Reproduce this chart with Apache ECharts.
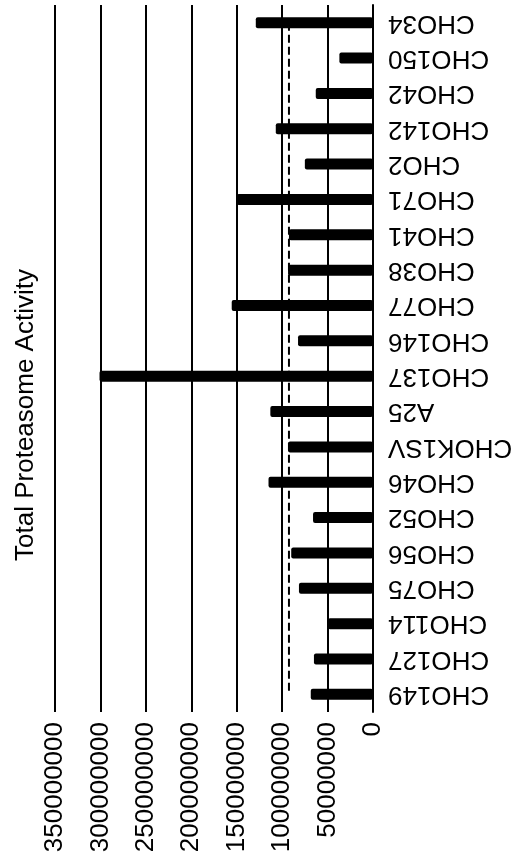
<!DOCTYPE html>
<html>
<head>
<meta charset="utf-8">
<script src="https://cdn.jsdelivr.net/npm/echarts@6/dist/echarts.min.js"></script>
<style>html,body{margin:0;padding:0;background:#fff}#c{width:513px;height:862px}</style>
</head>
<body>
<div id="c"></div>
<script>
const categories = ['CHO34','CHO150','CHO42','CHO142','CHO2','CHO71','CHO41','CHO38','CHO77','CHO146','CHO137','A25','CHOK1SV','CHO46','CHO52','CHO56','CHO75','CHO114','CHO127','CHO149'];
const activity = [129000000,37000000,63000000,107000000,75000000,150000000,92500000,93500000,155500000,82500000,301000000,113000000,93500000,115000000,66000000,90000000,81500000,49500000,65000000,68500000];
const referenceLine = [92500000,92500000,92500000,92500000,92500000,92500000,92500000,92500000,92500000,92500000,92500000,92500000,92500000,92500000,92500000,92500000,92500000,92500000,92500000,92500000];
const valueTicks = [0,50000000,100000000,150000000,200000000,250000000,300000000,350000000];
const titleText = 'Total Proteasome Activity';

const FONT = '"Liberation Sans", Arial, sans-serif';
const chart = echarts.init(document.getElementById('c'), null, {renderer: 'canvas'});
chart.setOption({
  animation: false,
  backgroundColor: '#fff',
  grid: {left: 55, right: 140, top: 5, bottom: 150, containLabel: false, outerBoundsMode: 'none'},
  xAxis: {
    type: 'value',
    inverse: true,
    min: valueTicks[0],
    max: valueTicks[valueTicks.length - 1],
    interval: valueTicks[1] - valueTicks[0],
    axisLine: {show: false},
    axisTick: {show: false},
    splitLine: {show: true, lineStyle: {color: '#000', width: 2}},
    axisLabel: {rotate: 90, margin: 10, fontSize: 26, color: '#000', fontFamily: FONT,
      formatter: function (v) { return String(v); }}
  },
  yAxis: {
    type: 'category',
    position: 'right',
    inverse: true,
    data: categories,
    axisLine: {show: true, lineStyle: {color: '#000', width: 2}},
    axisTick: {show: false},
    splitLine: {show: false},
    axisLabel: {rotate: 180, margin: 15, fontSize: 26, color: '#000', fontFamily: FONT}
  },
  series: [
    {
      type: 'line',
      data: referenceLine,
      symbol: 'none',
      lineStyle: {color: '#000', width: 2, type: [8, 4]},
      z: 1
    },
    {
      type: 'bar',
      data: activity,
      barWidth: 11,
      itemStyle: {color: '#000', borderRadius: 2},
      z: 2
    }
  ],
  graphic: [{
    type: 'text',
    x: 26, y: 415,
    rotation: Math.PI / 2,
    style: {text: titleText, font: '26px ' + FONT, fill: '#000', align: 'center', verticalAlign: 'middle'}
  }]
});
</script>
</body>
</html>
